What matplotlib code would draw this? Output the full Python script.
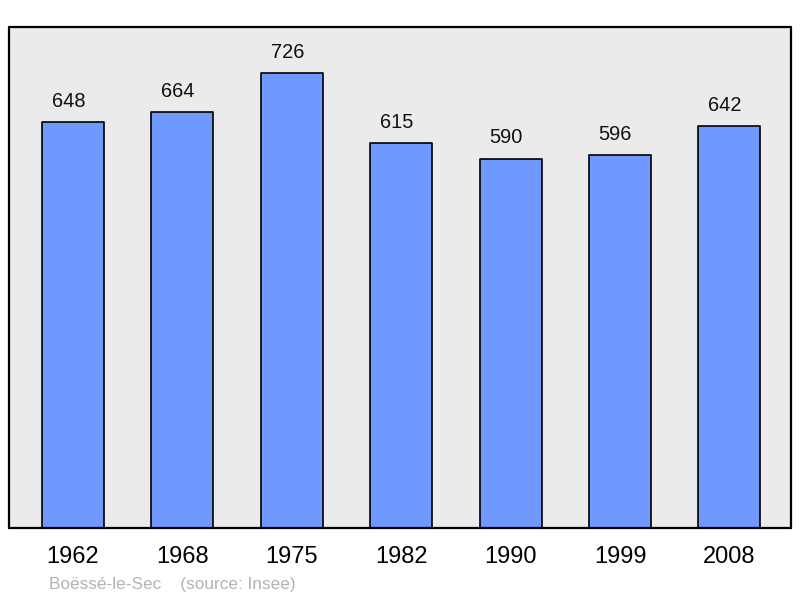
import matplotlib
matplotlib.use("Agg")
import matplotlib.pyplot as plt

years = ["1962", "1968", "1975", "1982", "1990", "1999", "2008"]
population = [648, 664, 726, 615, 590, 596, 642]
commune = "Boëssé-le-Sec"
source = "(source: Insee)"

plt.rcParams['font.family'] = ['Liberation Sans', 'DejaVu Sans']

fig = plt.figure(figsize=(8, 5.98), dpi=100)
ax = fig.add_axes([9/800, 70/598, 782/800, 501/598])
ax.set_facecolor('#ebebeb')

x = list(range(len(years)))
bars = ax.bar(x, population, width=0.567, color='#7099ff', edgecolor='black',
              linewidth=1.2, joinstyle='round', zorder=2)
for xi, v in zip(x, population):
    ax.annotate(str(v), (xi, v), xytext=(-3.3, 8), textcoords='offset points',
                ha='center', va='bottom', fontsize=14.4, color='#111111')

ax.set_xlim(-0.585, 6.563)
ax.set_ylim(0, 800)
ax.set_xticks(x)
ax.set_xticklabels(years, fontsize=17)
ax.tick_params(axis='x', length=0, pad=13)
ax.set_yticks([])
for s in ax.spines.values():
    s.set_linewidth(1.6)
    s.set_capstyle('round')
    s.set_joinstyle('round')

fig.text(49/800, 1 - 584/598, commune + "    " + source, fontsize=12.4,
         color='#b3b3b3', ha='left', va='center')

fig.savefig("out.png", dpi=100)
